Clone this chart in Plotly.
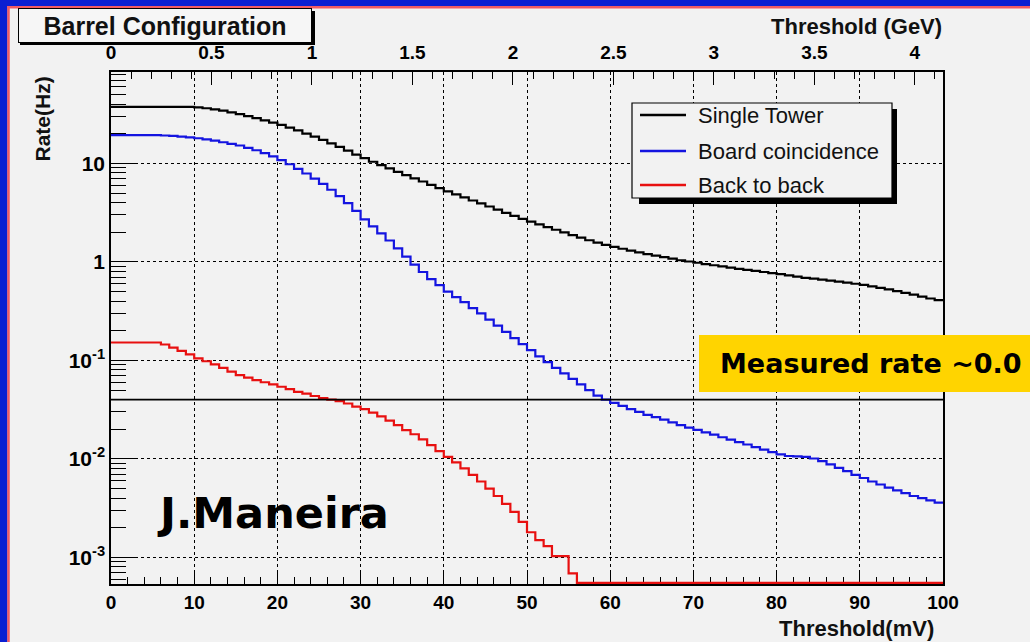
import numpy as np
import plotly.graph_objects as go

# Trigger threshold binning (1 mV bins, low edges) and conversion to energy
BIN_LOW_EDGES_MV = list(range(0, 100))
X_MAX_MV = 100
GEV_PER_MV = 0.0414
MEASURED_RATE_HZ = 0.04
Y_RANGE_LOG = [-3.27, 1.928]

single_tower = [
    37.5, 37.5, 37.5, 37.5, 37.5, 37.5, 37.5, 37.5, 37.5, 37.5,
    37.0, 36.3, 35.4, 34.3, 33.0, 31.6, 30.2, 28.8, 27.4, 26.0,
    24.6, 23.1, 21.6, 20.1, 18.7, 17.3, 16.0, 14.7, 13.5, 12.3,
    11.3, 10.4, 9.6, 8.9, 8.2, 7.6, 7.05, 6.55, 6.05, 5.6,
    5.2, 4.85, 4.52, 4.2, 3.92, 3.65, 3.39, 3.15, 2.93, 2.74,
    2.57, 2.41, 2.26, 2.12, 1.99, 1.87, 1.76, 1.66, 1.57, 1.49,
    1.42, 1.36, 1.30, 1.25, 1.20, 1.16, 1.12, 1.08, 1.04, 1.01,
    0.98, 0.95, 0.925, 0.90, 0.875, 0.85, 0.83, 0.81, 0.79, 0.77,
    0.75, 0.73, 0.71, 0.69, 0.675, 0.66, 0.645, 0.63, 0.615, 0.60,
    0.585, 0.565, 0.545, 0.525, 0.505, 0.485, 0.465, 0.445, 0.425, 0.41,
]

board_coincidence = [
    19.4, 19.4, 19.4, 19.4, 19.4, 19.4, 19.2, 19.0, 18.7, 18.4,
    18.0, 17.5, 17.0, 16.4, 15.8, 15.2, 14.4, 13.6, 12.7, 11.8,
    10.8, 9.8, 8.8, 7.9, 7.0, 6.2, 5.4, 4.65, 3.95, 3.3,
    2.7, 2.3, 1.95, 1.65, 1.37, 1.13, 0.94, 0.79, 0.67, 0.58,
    0.50, 0.44, 0.39, 0.34, 0.30, 0.26, 0.225, 0.195, 0.168, 0.146,
    0.127, 0.110, 0.096, 0.084, 0.074, 0.065, 0.057, 0.050, 0.044, 0.040,
    0.037, 0.0345, 0.032, 0.030, 0.028, 0.0265, 0.025, 0.0235, 0.022, 0.0208,
    0.0197, 0.0186, 0.0176, 0.0166, 0.0157, 0.0148, 0.0140, 0.0132, 0.0124, 0.0117,
    0.0111, 0.0107, 0.0106, 0.0105, 0.0101, 0.0095, 0.0088, 0.0081, 0.0075, 0.0069,
    0.0064, 0.0059, 0.0055, 0.0051, 0.0048, 0.0045, 0.0042, 0.0040, 0.0038, 0.0036,
]

back_to_back = [
    0.152, 0.152, 0.152, 0.152, 0.152, 0.152, 0.145, 0.135, 0.125, 0.115,
    0.105, 0.098, 0.091, 0.084, 0.077, 0.071, 0.067, 0.063, 0.060, 0.057,
    0.054, 0.051, 0.048, 0.046, 0.0435, 0.0415, 0.040, 0.0386, 0.0365, 0.034,
    0.032, 0.0295, 0.027, 0.0245, 0.022, 0.0196, 0.0178, 0.0158, 0.0138, 0.012,
    0.0105, 0.0092, 0.0080, 0.0069, 0.0059, 0.0050, 0.0042, 0.0035, 0.0029, 0.0023,
    0.0018, 0.0015, 0.0013, 0.00103, 0.00103, 0.00069, 0, 0, 0, 0,
    0, 0, 0, 0, 0, 0, 0, 0, 0, 0,
    0, 0, 0, 0, 0, 0, 0, 0, 0, 0,
    0, 0, 0, 0, 0, 0, 0, 0, 0, 0,
    0, 0, 0, 0, 0, 0, 0, 0, 0, 0,
]

series = [
    ("Single Tower", single_tower, "#000000"),
    ("Board coincidence", board_coincidence, "#1414e0"),
    ("Back to back", back_to_back, "#e81010"),
]

# Frame of the plotting area in figure pixels
W, H = 1030, 642
PL, PR, PT, PB = 111, 943, 72, 584


def px(xp):
    return (xp - PL) / (PR - PL)


def py(yp):
    return (PB - yp) / (PB - PT)


BG = "#f2f2f2"
FONT = "Liberation Sans"
# empty bins are drawn just on the bottom edge of the frame
y_floor = 10 ** (Y_RANGE_LOG[0] + 0.012)

fig = go.Figure()

for name, vals, color in series:
    v = np.clip(np.asarray(vals, dtype=float), y_floor, None)
    xs = BIN_LOW_EDGES_MV + [X_MAX_MV]
    ys = list(v) + [v[-1]]
    fig.add_trace(go.Scatter(
        x=xs, y=ys, mode="lines", name=name, showlegend=False,
        line=dict(color=color, width=2.2, shape="hv"),
    ))

# measured trigger rate
fig.add_trace(go.Scatter(
    x=[0, X_MAX_MV], y=[MEASURED_RATE_HZ, MEASURED_RATE_HZ], mode="lines",
    line=dict(color="black", width=1.6), showlegend=False, hoverinfo="skip",
))

# energy scale on the top axis
fig.add_trace(go.Scatter(x=[0, X_MAX_MV * GEV_PER_MV], y=[None, None],
                         xaxis="x2", showlegend=False, hoverinfo="skip"))

tickfont = dict(family=FONT, size=19, color="black", weight="bold")
ytickfont = dict(family=FONT, size=21, color="black", weight="bold")
decades = [1e-3, 1e-2, 1e-1, 1, 10]
decade_text = ["10<sup>-3</sup>", "10<sup>-2</sup>", "10<sup>-1</sup>", "1", "10"]
minor_vals = [m * 10.0 ** e for e in range(-4, 2) for m in range(2, 10)]

fig.update_layout(
    width=W, height=H,
    margin=dict(l=PL, r=W - PR, t=PT, b=H - PB, pad=0),
    paper_bgcolor=BG, plot_bgcolor=BG,
    showlegend=False,
    xaxis=dict(
        range=[0, X_MAX_MV], dtick=10, tick0=0,
        showgrid=True, gridcolor="black", gridwidth=1, griddash="dot",
        zeroline=False, showline=True, linecolor="black", linewidth=1.5,
        mirror=True,
        ticks="inside", ticklen=14, tickwidth=1.2, tickcolor="black",
        minor=dict(dtick=2, ticks="inside", ticklen=7, tickcolor="black",
                   tickwidth=1.2, showgrid=False),
        tickfont=tickfont, layer="below traces",
    ),
    xaxis2=dict(
        overlaying="x", side="top", anchor="y",
        range=[0, X_MAX_MV * GEV_PER_MV], dtick=0.5, tick0=0,
        showgrid=False, zeroline=False, showline=True, linecolor="black",
        linewidth=1.5,
        ticks="inside", ticklen=13, tickwidth=1.2, tickcolor="black",
        minor=dict(dtick=0.1, ticks="inside", ticklen=7, tickcolor="black",
                   tickwidth=1.2, showgrid=False),
        tickfont=tickfont, ticklabelstandoff=4,
    ),
    yaxis=dict(
        type="log", range=Y_RANGE_LOG,
        tickmode="array", tickvals=decades, ticktext=decade_text,
        showgrid=True, gridcolor="black", gridwidth=1, griddash="dot",
        zeroline=False, showline=True, linecolor="black", linewidth=1.5,
        mirror=True,
        ticks="inside", ticklen=26, tickwidth=1.2, tickcolor="black",
        minor=dict(tickmode="array", tickvals=minor_vals, ticks="inside",
                   ticklen=15, tickcolor="black", tickwidth=1.2,
                   showgrid=False),
        tickfont=ytickfont, layer="below traces",
    ),
)

# Legend box geometry (figure pixels)
LEG_L, LEG_R, LEG_T, LEG_B = 632, 892, 103, 198
LEG_ROWS = [115, 151, 185]

shapes = [
    # slide border: blue band and thin red rule
    dict(type="rect", xref="paper", yref="paper", x0=px(-5), x1=px(7.5),
         y0=py(H + 5), y1=py(-5), fillcolor="#0b1fd2", line_width=0,
         layer="above"),
    dict(type="rect", xref="paper", yref="paper", x0=px(-5), x1=px(W + 5),
         y0=py(6), y1=py(-5), fillcolor="#0b1fd2", line_width=0,
         layer="above"),
    dict(type="line", xref="paper", yref="paper", x0=px(8.5), x1=px(8.5),
         y0=py(H + 5), y1=py(6), line=dict(color="#f05a64", width=2.5),
         layer="above"),
    dict(type="line", xref="paper", yref="paper", x0=px(7.5), x1=px(W + 5),
         y0=py(7.2), y1=py(7.2), line=dict(color="#f05a64", width=2.5),
         layer="above"),
    # legend: shadow and frame
    dict(type="rect", xref="paper", yref="paper", x0=px(LEG_L + 7),
         x1=px(LEG_R + 5), y0=py(LEG_B + 6), y1=py(LEG_T + 6),
         fillcolor="black", line_width=0, layer="above"),
    dict(type="rect", xref="paper", yref="paper", x0=px(LEG_L), x1=px(LEG_R),
         y0=py(LEG_B), y1=py(LEG_T), fillcolor=BG,
         line=dict(color="black", width=1.2), layer="above"),
    # title box shadow
    dict(type="rect", xref="paper", yref="paper", x0=px(20), x1=px(315),
         y0=py(45), y1=py(11), fillcolor="black", line_width=0,
         layer="above"),
    # highlight box for the measured rate
    dict(type="rect", xref="paper", yref="paper", x0=px(699), x1=px(W + 40),
         y0=py(392), y1=py(335), fillcolor="#ffd400", line_width=0,
         layer="above"),
]

annotations = []
for (name, _, color), row in zip(series, LEG_ROWS):
    shapes.append(dict(type="line", xref="paper", yref="paper",
                       x0=px(640), x1=px(686), y0=py(row), y1=py(row),
                       line=dict(color=color, width=2.5), layer="above"))
    annotations.append(dict(text=name, xref="paper", yref="paper",
                            x=px(696), y=py(row), xanchor="left",
                            yanchor="middle", showarrow=False,
                            font=dict(family=FONT, size=22, color="#111111")))

fig.update_layout(shapes=shapes)

annotations += [
    dict(text="<b>Barrel Configuration</b>", xref="paper", yref="paper",
         x=px(165), y=py(25.5), xanchor="center", yanchor="middle",
         showarrow=False, font=dict(family=FONT, size=25, color="#111111"),
         bgcolor="#f6f6f6", bordercolor="black", borderwidth=1,
         width=290, height=31, borderpad=1),
    dict(text="<b>Threshold (GeV)</b>", xref="paper", yref="paper",
         x=px(944), y=py(26), xanchor="right", yanchor="middle",
         showarrow=False, font=dict(family=FONT, size=22, color="#111111")),
    dict(text="<b>Threshold(mV)</b>", xref="paper", yref="paper",
         x=px(936), y=py(628), xanchor="right", yanchor="middle",
         showarrow=False, font=dict(family=FONT, size=22, color="#111111")),
    dict(text="<b>Rate(Hz)</b>", xref="paper", yref="paper",
         x=px(42), y=py(75), xanchor="center", yanchor="top",
         textangle=-90, showarrow=False,
         font=dict(family=FONT, size=21, color="#111111")),
    dict(text="<b>J.Maneira</b>", xref="paper", yref="paper",
         x=px(155), y=py(513), xanchor="left", yanchor="middle",
         showarrow=False, font=dict(family="DejaVu Sans", size=43,
                                    color="black")),
    dict(text="<b>Measured rate ~0.0</b>", xref="paper", yref="paper",
         x=px(718), y=py(363), xanchor="left", yanchor="middle",
         showarrow=False, font=dict(family="DejaVu Sans", size=27,
                                    color="black")),
]
fig.update_layout(annotations=annotations)

fig.write_html("out.html")
